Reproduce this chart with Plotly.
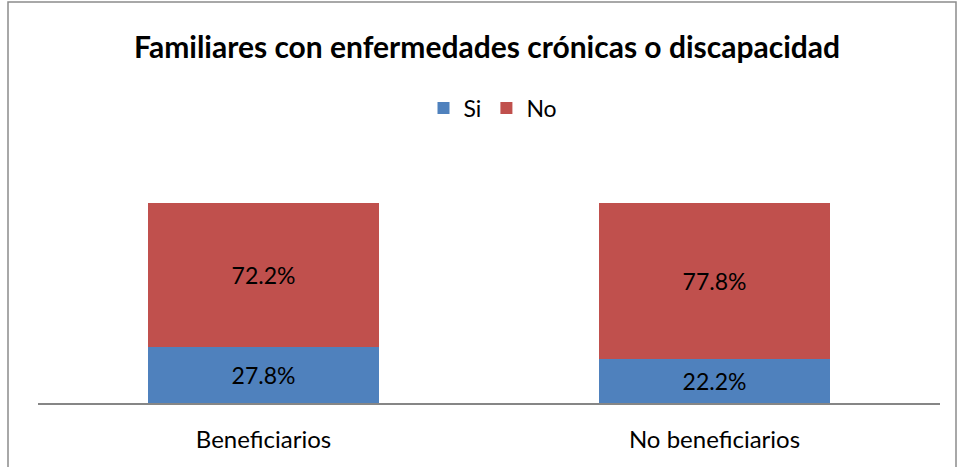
import plotly.graph_objects as go

categories = ["Beneficiarios", "No beneficiarios"]
si_values = [27.8, 22.2]
no_values = [72.2, 77.8]
series_names = ["Si", "No"]
colors = ["#4F81BD", "#C0504D"]

W, H = 958, 467
L, R, T, B = 38, 958 - 940, 203, 467 - 403

fig = go.Figure()
for name, vals, col in zip(series_names, [si_values, no_values], colors):
    fig.add_trace(go.Bar(
        x=categories, y=vals, name=name,
        marker=dict(color=col, line=dict(width=0)),
        text=[f"{v:.1f}%" for v in vals],
        textposition="inside", insidetextanchor="middle",
        textfont=dict(color="black", size=23, family="Lato"),
        width=0.512,
    ))

pw = W - L - R
ph = H - T - B
fig.add_shape(type="rect", xref="paper", yref="paper",
              x0=(8 - L) / pw, x1=(956 - L) / pw,
              y0=(403 - 475) / ph, y1=(403 - 2) / ph,
              line=dict(color="#8c8c8c", width=1.5), fillcolor="rgba(0,0,0,0)", layer="below")

fig.update_layout(
    width=W, height=H,
    margin=dict(l=L, r=R, t=T, b=B),
    barmode="stack",
    plot_bgcolor="white", paper_bgcolor="white",
    font=dict(family="Lato", color="black"),
    title=dict(text="<b>Familiares con enfermedades crónicas o discapacidad</b>",
               x=487 / W, xanchor="center", y=1 - 47 / H, yanchor="middle",
               font=dict(size=30, family="Lato", color="black")),
    legend=dict(orientation="h", x=(493 - L) / pw, xanchor="center", y=(403 - 108) / ph, yanchor="middle",
                font=dict(size=23), itemwidth=30, traceorder="normal"),
    xaxis=dict(showline=True, linecolor="#868686", linewidth=2, ticks="",
               tickfont=dict(size=24), ticklabelstandoff=14, showgrid=False),
    yaxis=dict(visible=False, range=[0, 100], showgrid=False),
    bargap=0.488,
)

fig.write_html("out.html", config={"displayModeBar": False},
               post_script="document.body.style.margin='0';document.body.style.overflow='hidden';")
